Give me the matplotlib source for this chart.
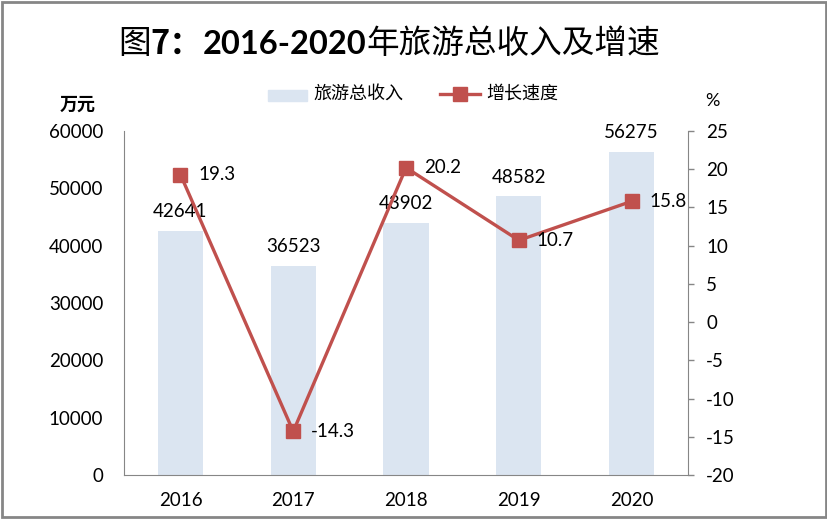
import numpy as np
import matplotlib.pyplot as plt
from matplotlib.patches import Rectangle

years = ["2016", "2017", "2018", "2019", "2020"]
income = [42641, 36523, 43902, 48582, 56275]
growth = [19.3, -14.3, 20.2, 10.7, 15.8]

num_font = ["Lato", "Noto Sans CJK SC", "DejaVu Sans"]
cjk_font = ["Noto Sans CJK SC", "DejaVu Sans"]
plt.rcParams["font.family"] = num_font
plt.rcParams["axes.unicode_minus"] = False

bar_color = "#dbe5f1"
line_color = "#c0504d"
grey = "#868686"

fig = plt.figure(figsize=(8.28, 5.19), dpi=100)
ax = fig.add_axes([0.1498, 0.0848, 0.6812, 0.6628])
ax2 = ax.twinx()

x = np.arange(len(years))
ax.bar(x, income, 0.4, color=bar_color, zorder=1)
ax.set_xlim(-0.5, len(years) - 0.5)
ax.set_ylim(0, 60000)
ax.set_yticks(np.arange(0, 60001, 10000))
ax.set_xticks(x, years)

for xi, v in zip(x, income):
    ax.annotate(str(v), (xi, v), xytext=(0, 14), textcoords="offset points",
                ha="center", va="center", fontsize=13.5)

ax2.plot(x, growth, color=line_color, linewidth=2.4, marker="s",
         markersize=10, zorder=3)
ax2.set_ylim(-20, 25)
ax2.set_yticks(np.arange(-20, 26, 5))
for xi, v in zip(x, growth):
    ax2.annotate(f"{v:.1f}", (xi, v), xytext=(13, 0), textcoords="offset points",
                 ha="left", va="center", fontsize=13.5)

for a in (ax, ax2):
    a.spines["top"].set_visible(False)
    for s in ("left", "right", "bottom"):
        a.spines[s].set_color(grey)
ax.spines["right"].set_visible(False)
ax2.spines["left"].set_visible(False)
ax2.spines["bottom"].set_visible(False)

ax.tick_params(axis="y", length=0, pad=15, labelsize=13.5)
ax.tick_params(axis="x", length=0, pad=12, labelsize=13.5)
ax2.tick_params(axis="y", length=4, width=1, color=grey, pad=9, labelsize=13.5)

ax.set_zorder(ax2.get_zorder() - 1)
ax2.patch.set_visible(False)

# title in pieces: CJK regular, numbers bold
renderer = fig.canvas.get_renderer()
pieces = [("图", cjk_font, "normal", 23.5), ("7：", cjk_font, "bold", 23.5),
          ("2016-2020", num_font, "bold", 23.5),
          ("年旅游总收入及增速", cjk_font, "normal", 23.5)]
cur = 118 / 828
for s, fam, w, size in pieces:
    t = fig.text(cur, 1 - 44 / 519, s, ha="left", va="center", fontsize=size,
                 fontweight=w, family=fam)
    bb = t.get_window_extent(renderer)
    cur += bb.width / fig.bbox.width

fig.text(0.094, 0.80, "万元", ha="center", va="center", fontsize=13,
         fontweight="bold", family=cjk_font)
fig.text(0.86, 0.805, "%", ha="center", va="center", fontsize=13)

# legend
fig.patches.append(Rectangle((268 / 828, 1 - 101 / 519), 39 / 828, 11 / 519,
                             transform=fig.transFigure, color=bar_color))
fig.text(313 / 828, 1 - 94 / 519, "旅游总收入", ha="left", va="center",
         fontsize=13, family=cjk_font)
fig.lines.append(plt.Line2D([440 / 828, 460 / 828, 480 / 828], [1 - 94 / 519] * 3,
                            transform=fig.transFigure, color=line_color,
                            linewidth=2.4, marker="s", markersize=10,
                            markevery=[1]))
fig.text(486 / 828, 1 - 94 / 519, "增长速度", ha="left", va="center",
         fontsize=13, family=cjk_font)

fig.patches.append(Rectangle((0.002, 0.003), 0.995, 0.993, transform=fig.transFigure,
                             fill=False, edgecolor=grey, linewidth=2))

fig.savefig("out.png", dpi=100)
